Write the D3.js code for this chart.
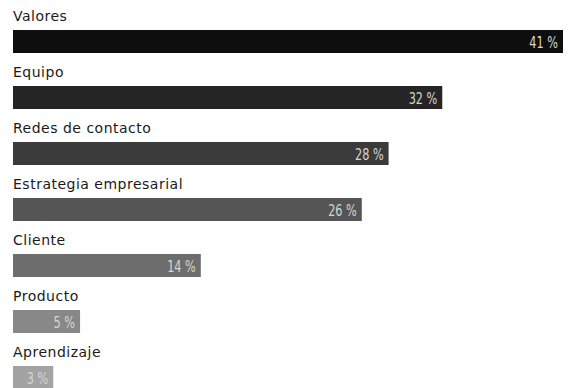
<!DOCTYPE html>
<html>
<head>
<meta charset="utf-8">
<script src="https://cdn.jsdelivr.net/npm/d3@7"></script>
<style>
  html, body { margin: 0; padding: 0; background: #fff; }
  svg { display: block; }
</style>
</head>
<body>
<svg id="chart" width="572" height="388"></svg>
<script>
// Categories, values (percent) and bar shades, top to bottom
const categories = ["Valores", "Equipo", "Redes de contacto", "Estrategia empresarial", "Cliente", "Producto", "Aprendizaje"];
const values = [41, 32, 28, 26, 14, 5, 3];
const shades = ["#0e0e0e", "#252525", "#3b3b3b", "#555555", "#6d6d6d", "#888888", "#a3a3a3"];

const width = 572, height = 388;
const margin = { left: 13, right: 9, top: 0, bottom: 0 };
const rowH = 56;
const barTop = 30, barH = 23;
const squeeze = 0.76; // horizontal compression for the condensed value labels

const svg = d3.select("#chart");

const x = d3.scaleLinear()
  .domain([0, d3.max(values)])
  .range([margin.left, width - margin.right]);

const y = d3.scaleBand()
  .domain(categories)
  .range([0, rowH * categories.length])
  .paddingInner(0);

const rows = svg.selectAll("g.row")
  .data(categories.map((c, i) => ({ c, v: values[i], fill: shades[i] })))
  .join("g")
  .attr("class", "row")
  .attr("transform", d => `translate(0,${y(d.c)})`);

rows.append("text")
  .attr("x", margin.left)
  .attr("y", 21)
  .attr("font-family", "'DejaVu Sans', sans-serif")
  .attr("font-size", 14)
  .attr("letter-spacing", 0.5)
  .attr("fill", "#1a1a1a")
  .text(d => d.c);

rows.append("rect")
  .attr("x", x(0))
  .attr("y", barTop)
  .attr("width", d => x(d.v) - x(0))
  .attr("height", barH)
  .attr("fill", d => d.fill);

rows.append("text")
  .attr("transform", d => `translate(${x(d.v) - 5},${barTop + barH / 2 + 6}) scale(${squeeze},1)`)
  .attr("text-anchor", "end")
  .attr("font-family", "'DejaVu Sans Condensed', 'DejaVu Sans', sans-serif")
  .attr("font-size", 16.5)
  .attr("fill", "#d6d6cf")
  .text(d => `${d.v} %`);
</script>
</body>
</html>
